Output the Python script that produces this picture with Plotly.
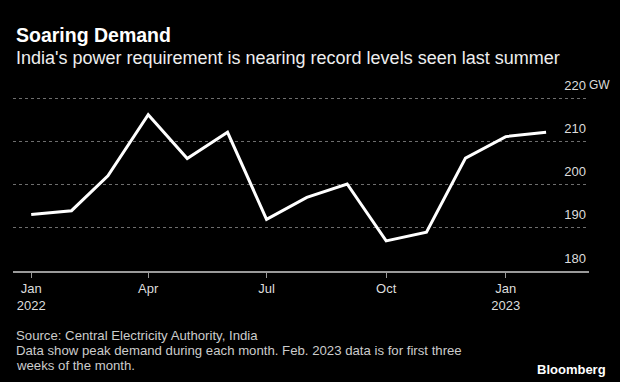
import plotly.graph_objects as go

months = ["2022-01-01", "2022-02-01", "2022-03-01", "2022-04-01", "2022-05-01", "2022-06-01",
          "2022-07-01", "2022-08-01", "2022-09-01", "2022-10-01", "2022-11-01", "2022-12-01",
          "2023-01-01", "2023-02-01"]
peak_gw = [193.1, 194.0, 202.1, 216.3, 206.1, 212.2, 192.0, 197.1, 200.2, 187.0, 189.0, 206.2, 211.2, 212.2]

x_tick_vals = ["2022-01-01", "2022-04-01", "2022-07-01", "2022-10-01", "2023-01-01"]
x_tick_text = ["Jan<br>2022", "Apr", "Jul", "Oct", "Jan<br>2023"]
y_tick_vals = [180, 190, 200, 210, 220]
y_tick_text = ["180", "190", "200", "210", "220"]

W, H = 620, 382
Y0, Y1 = 180, 225.5
PXPERGW = 4.3
L, R, B = 13, 589, 271
T = B - (Y1 - Y0) * PXPERGW

def px(x):
    return (x - L) / (R - L)

def py(y):
    return (B - y) / (B - T)

FONT = "Liberation Sans, Arial, sans-serif"

fig = go.Figure()
fig.add_trace(go.Scatter(x=months, y=peak_gw, mode="lines",
                         line=dict(color="white", width=3), hoverinfo="skip"))

fig.update_layout(
    width=W, height=H,
    paper_bgcolor="black", plot_bgcolor="black",
    margin=dict(l=L, r=W - R, t=T, b=H - B, pad=0),
    showlegend=False,
    font=dict(family=FONT, color="#dddddd"),
    xaxis=dict(
        type="date", range=["2021-12-18", "2023-03-06"],
        tickvals=x_tick_vals, ticktext=x_tick_text,
        showgrid=False, zeroline=False,
        showline=True, linecolor="#9a9a9a", linewidth=1.5,
        ticks="outside", ticklen=5, tickcolor="#9a9a9a", tickwidth=1,
        tickfont=dict(size=13, color="#dddddd", family=FONT),
        fixedrange=True,
    ),
    yaxis=dict(
        range=[Y0, Y1], side="right",
        tickvals=y_tick_vals, ticktext=y_tick_text,
        ticklabelposition="inside", ticklabelshift=-13,
        showgrid=True, gridcolor="#6e6e6e", griddash="dot", gridwidth=1,
        zeroline=False, showline=False, ticks="",
        tickfont=dict(size=13, color="#dddddd", family=FONT),
        fixedrange=True,
    ),
)

annotations = [
    dict(text="<b>Soaring Demand</b>", x=px(14), y=py(35), font=dict(size=19.5, color="white")),
    dict(text="India's power requirement is nearing record levels seen last summer",
         x=px(14), y=py(58), font=dict(size=18, color="#eeeeee")),
    dict(text="GW", x=px(587), y=py(85), font=dict(size=12, color="#dddddd")),
    dict(text="Source: Central Electricity Authority, India", x=px(14), y=py(335),
         font=dict(size=13.2, color="#cccccc")),
    dict(text="Data show peak demand during each month. Feb. 2023 data is for first three",
         x=px(14), y=py(350.5), font=dict(size=13.2, color="#cccccc")),
    dict(text="weeks of the month.", x=px(14), y=py(365), font=dict(size=13.2, color="#cccccc")),
]
for a in annotations:
    a.update(xref="paper", yref="paper", xanchor="left", yanchor="middle", showarrow=False)
fig.update_layout(annotations=annotations)
fig.add_annotation(text="<b>Bloomberg</b>", xref="paper", yref="paper", x=px(608), y=py(369),
                   xanchor="right", yanchor="middle", showarrow=False,
                   font=dict(size=13, color="white", family=FONT))

fig.write_html("out.html", config={"displayModeBar": False},
               post_script="document.body.style.margin='0';document.body.style.background='black';")
